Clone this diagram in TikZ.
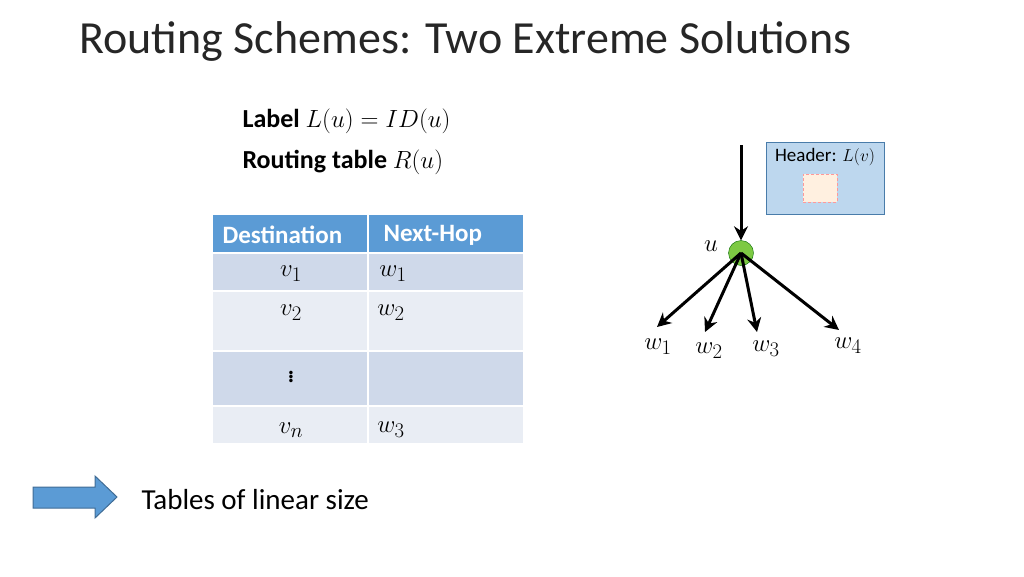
\documentclass[tikz,border=0pt]{standalone}
\usepackage{fontspec}
\setmainfont{Carlito}
\usetikzlibrary{arrows.meta}
\definecolor{hdblue}{HTML}{5B9BD5}
\definecolor{rowdark}{HTML}{CFD9EA}
\definecolor{rowlight}{HTML}{E9EDF4}
\definecolor{boxblue}{HTML}{BDD7EE}
\definecolor{nodegreen}{HTML}{7DC943}
\begin{document}
\begin{tikzpicture}[x=1pt,y=-1pt]
    \tikzset{cell/.style={inner sep=0pt,anchor=center},
             body/.style={font=\fontsize{29}{34}\selectfont},
             edge/.style={-{Stealth[length=14pt,width=14pt]}, line width=3pt}}
    \useasboundingbox (0,0) rectangle (1024,576);

    % title and labels
    \node[anchor=west,font=\fontsize{46}{52}\selectfont,text=black!85] (title) at (76,41) {Routing Schemes: Two Extreme Solutions};
    \node[anchor=west,font=\fontsize{26}{30}\selectfont] (lab) at (239,121) {\textbf{Label} $L(u)=ID(u)$};
    \node[anchor=west,font=\fontsize{26}{30}\selectfont] (rt) at (239,162) {\textbf{Routing table} $R(u)$};

    % table
    \fill[hdblue] (213,215) rectangle (523,252);
    \fill[rowdark] (213,254) rectangle (523,290);
    \fill[rowlight] (213,292) rectangle (523,350);
    \fill[rowdark] (213,352) rectangle (523,405);
    \fill[rowlight] (213,407) rectangle (523,443);
    \draw[white,line width=2pt] (368,215) -- (368,443);
    \node[anchor=west,font=\fontsize{25}{30}\selectfont,text=white] (dst) at (219,235) {\textbf{Destination}};
    \node[anchor=west,font=\fontsize{25}{30}\selectfont,text=white] (nxt) at (380,235) {\textbf{Next-Hop}};
    \node[body] (v1) at (291,274) {$v_1$};
    \node[body] (w1t) at (393,274) {$w_1$};
    \node[body] (v2) at (291,313) {$v_2$};
    \node[body] (w2t) at (391,313) {$w_2$};
    \node[body] (vd) at (291,374) {$\vdots$};
    \node[body] (vn) at (291,430) {$v_n$};
    \node[body] (w3t) at (391,430) {$w_3$};

    % header box
    \node[draw=hdblue!80!black,fill=boxblue,minimum width=118pt,minimum height=72pt] (hbox) at (825,178) {};
    \node[anchor=north,font=\fontsize{19}{22}\selectfont] (htxt) at (825,145) {Header: $L(v)$};
    \node[draw=red!40!white,densely dashed,fill=orange!12,minimum width=34pt,minimum height=28pt,inner sep=0pt] (env) at (820,188) {};

    % routing node
    \node[circle,draw=green!40!black,fill=nodegreen,minimum size=25pt,inner sep=0pt] (u) at (741,253) {};
    \node[body] (ulab) at (711,246) {$u$};
    \coordinate (in) at (741,145);
    \coordinate (e1) at (657,327);
    \coordinate (e2) at (705,332);
    \coordinate (e3) at (757,332);
    \coordinate (e4) at (839,330);
    \draw[edge] (in) -- (u);
    \foreach \e in {e1,e2,e3,e4}
        \draw[edge] (u.center) -- (\e);
    \node[body] (w1) at (658,347) {$w_1$};
    \node[body] (w2) at (709,351) {$w_2$};
    \node[body] (w3) at (766,349) {$w_3$};
    \node[body] (w4) at (848,346) {$w_4$};

    % conclusion
    \draw[fill=hdblue,draw=hdblue!70!black,line width=1pt]
        (33,487) -- (95,487) -- (95,476) -- (117,497) -- (95,518) -- (95,508) -- (33,508) -- cycle;
    \node[anchor=west,body] (concl) at (138,500) {Tables of linear size};
\end{tikzpicture}
\end{document}
